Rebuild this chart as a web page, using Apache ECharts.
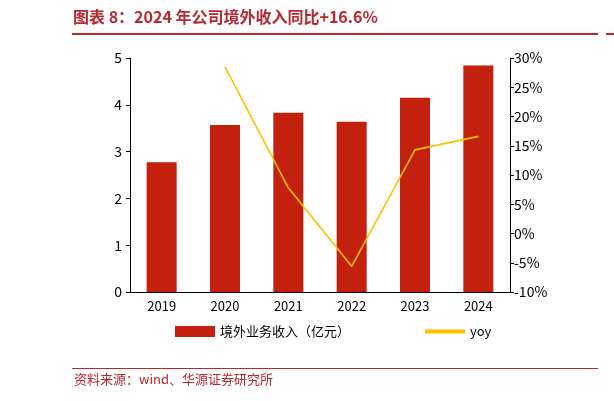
<!DOCTYPE html>
<html><head><meta charset="utf-8">
<script src="https://cdn.jsdelivr.net/npm/echarts@6/dist/echarts.min.js"></script>
<style>html,body{margin:0;padding:0;background:#fff}#chart{width:614px;height:401px}</style>
</head><body><div id="chart"></div>
<script>
var years = ['2019', '2020', '2021', '2022', '2023', '2024'];
var revenue = [2.77, 3.57, 3.83, 3.64, 4.15, 4.84];
var yoy = [null, 28.5, 7.8, -5.6, 14.3, 16.6];

var chart = echarts.init(document.getElementById('chart'));
var font = '"Noto Sans CJK SC", sans-serif';
chart.setOption({
    animation: false,
    textStyle: {fontFamily: font},
    graphic: [
        {type: 'text', left: 73, top: 9, style: {text: '图表 8：2024 年公司境外收入同比+16.6%', fill: '#b8282e', font: 'bold 16px "Noto Sans CJK SC"'}},
        {type: 'rect', shape: {x: 72, y: 33, width: 526, height: 2}, style: {fill: '#b8282e'}},
        {type: 'rect', shape: {x: 606, y: 33, width: 8, height: 2}, style: {fill: '#b8282e'}},
        {type: 'rect', shape: {x: 72, y: 368, width: 526, height: 1}, style: {fill: '#b8282e'}},
        {type: 'text', left: 74, top: 373, style: {text: '资料来源：wind、华源证券研究所', fill: '#b8282e', font: '13px "Noto Sans CJK SC"'}}
    ],
    grid: {left: 130, right: 104, top: 58, bottom: 109},
    legend: {
        bottom: 58, left: 170, itemGap: 75, itemWidth: 40, itemHeight: 11,
        textStyle: {fontSize: 13, color: '#000'},
        data: [{name: '境外业务收入（亿元）', icon: 'rect'}, {name: 'yoy', icon: 'path://M0,0H10V1H0Z'}]
    },
    xAxis: {
        type: 'category', data: years,
        axisLine: {lineStyle: {color: '#000'}},
        axisTick: {show: false},
        axisLabel: {color: '#000', fontSize: 13}
    },
    yAxis: [
        {type: 'value', min: 0, max: 5, interval: 1, splitLine: {show: false},
         axisLine: {show: true, lineStyle: {color: '#000'}}, axisTick: {show: true, length: 4},
         axisLabel: {color: '#000', fontSize: 14, margin: 8}},
        {type: 'value', min: -10, max: 30, interval: 5, splitLine: {show: false},
         axisLine: {show: true, lineStyle: {color: '#000'}}, axisTick: {show: true, length: 4},
         axisLabel: {color: '#000', fontSize: 14, formatter: '{value}%', margin: 4}}
    ],
    series: [
        {name: '境外业务收入（亿元）', type: 'bar', data: revenue, barWidth: 30, itemStyle: {color: '#c4200e'}},
        {name: 'yoy', type: 'line', yAxisIndex: 1, data: yoy, symbol: 'none',
         lineStyle: {color: '#ffc000', width: 1.6}, itemStyle: {color: '#ffc000'}}
    ]
});
</script></body></html>
